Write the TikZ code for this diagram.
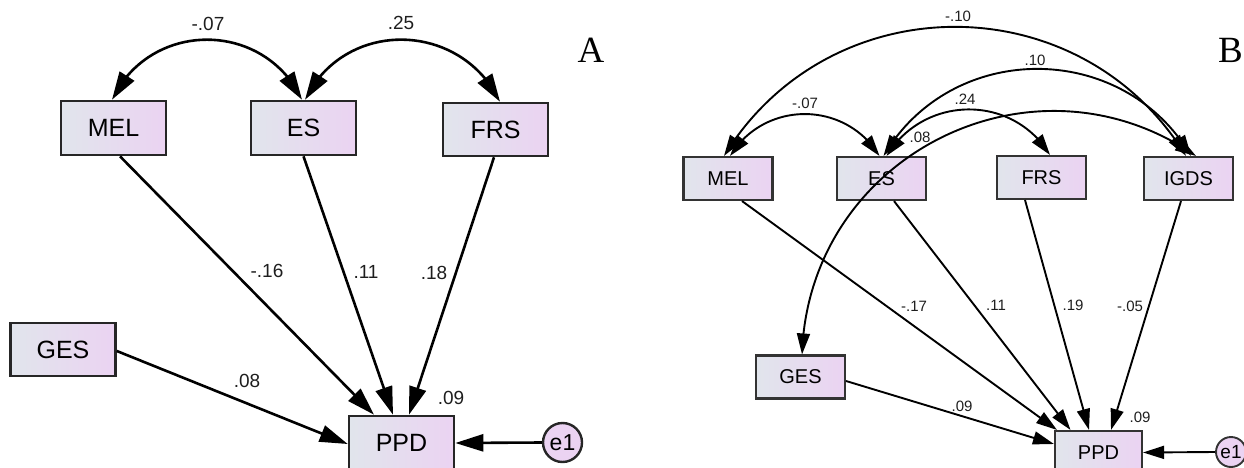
\documentclass[tikz,border=0pt]{standalone}
\usepackage{fontspec}
\setmainfont{Liberation Sans}
\newfontfamily\panelfont{Liberation Serif}
\usetikzlibrary{arrows.meta,bending}
\definecolor{boxL}{HTML}{E1E5EC}
\definecolor{boxR}{HTML}{EBD3F2}
\definecolor{labc}{HTML}{1E1E1E}
\begin{document}
\begin{tikzpicture}[x=1pt,y=1pt,
  boxA/.style={draw=black!85, line width=2.6pt, left color=boxL, right color=boxR,
    minimum width=105pt, minimum height=54pt, inner sep=0pt, font=\fontsize{25}{25}\selectfont},
  boxB/.style={draw=black!80, line width=2.1pt, left color=boxL, right color=boxR,
    minimum width=89pt, minimum height=43pt, inner sep=0pt, font=\fontsize{20}{20}\selectfont},
  errA/.style={circle, draw=black!85, line width=2.4pt, fill=boxR, minimum size=39pt, inner sep=0pt,
    font=\fontsize{23}{23}\selectfont},
  errB/.style={circle, draw=black!80, line width=1.9pt, fill=boxR, minimum size=30pt, inner sep=0pt,
    font=\fontsize{19}{19}\selectfont},
  pathA/.style={line width=2.6pt, -{Triangle[length=28pt,width=17pt]}},
  covA/.style={line width=2.6pt, {Triangle[length=28pt,width=17pt]}-{Triangle[length=28pt,width=17pt]}},
  pathB/.style={line width=1.9pt, -{Triangle[length=21pt,width=13pt]}},
  covB/.style={line width=1.9pt, {Triangle[length=21pt,width=13pt]}-{Triangle[length=21pt,width=13pt]}},
  labA/.style={inner sep=0pt, text=labc, font=\fontsize{19}{19}\selectfont},
  labB/.style={inner sep=0pt, text=labc, font=\fontsize{15}{15}\selectfont},
  panel/.style={inner sep=0pt, font=\panelfont\fontsize{37}{37}\selectfont}
]
\useasboundingbox (0,0) rectangle (1244,467);

% ---------------- Panel A ----------------
\node[boxA] (aMEL) at (113.5,339) {MEL};
\node[boxA] (aES)  at (303.5,339) {ES};
\node[boxA, minimum height=53pt] (aFRS) at (495.5,337.5) {FRS};
\node[boxA, minimum height=53pt] (aGES) at (63,117.5) {GES};
\node[boxA] (aPPD) at (401.5,24) {PPD};
\node[errA] (ae1) at (562.5,24.5) {e1};
\node[panel] (aLab) at (591,417) {A};

\draw[covA] ([xshift=-1.5]aMEL.north) .. controls +(64.6:88.6) and +(115.4:88.6) .. ([xshift=-1.5]aES.north);
\draw[covA] ([xshift=1.5]aES.north) .. controls +(64.1:90.5) and +(115.9:90.5) .. ([xshift=4.5]aFRS.north);

\draw[pathA] ([xshift=6.5]aMEL.south) -- ([xshift=-27.5]aPPD.north);
\draw[pathA] (aES.south) -- ([xshift=-8.5]aPPD.north);
\draw[pathA] ([xshift=-1.5]aFRS.south) -- ([xshift=7.5]aPPD.north);
\draw[pathA] ([yshift=-1.5]aGES.east) -- ([yshift=-1]aPPD.west);
\draw[pathA] (ae1.west) -- (aPPD.east);

\node[labA] (aL1) at (208,443) {-.07};
\node[labA] (aL2) at (401,444) {.25};
\node[labA] (aL3) at (267,196) {-.16};
\node[labA] (aL4) at (366,195) {.11};
\node[labA] (aL5) at (434,194) {.18};
\node[labA] (aL6) at (247,86) {.08};
\node[labA] (aL7) at (451,69) {.09};

% ---------------- Panel B ----------------
\node[boxB] (bMEL)  at (728,288.5) {MEL};
\node[boxB] (bES)   at (881.5,288.5) {ES};
\node[boxB] (bFRS)  at (1041.5,289.5) {FRS};
\node[boxB] (bIGDS) at (1188.5,288.5) {IGDS};
\node[boxB] (bGES)  at (800.5,90) {GES};
\node[boxB, minimum width=87pt] (bPPD) at (1098.5,14.5) {PPD};
\node[errB] (be1) at (1231,15) {e1};
\node[panel] (bLab) at (1230.5,417) {B};

\draw[covB] ([xshift=-4]bMEL.north) .. controls +(58.5:201.9) and +(121.5:201.9) .. ([xshift=-2.5]bIGDS.north);
\draw[covB] ([xshift=2]bMEL.north) .. controls +(58.4:65.6) and +(121.6:65.6) .. ([xshift=-2]bES.north);
\draw[covB] ([xshift=2]bES.north) .. controls +(59.6:134.6) and +(120.4:134.6) .. ([xshift=2.5]bIGDS.north);
\draw[covB] ([xshift=5]bES.north) .. controls +(58.6:71.9) and +(121.4:71.9) .. ([xshift=8.5]bFRS.north);
\draw[covB] ([xshift=1.5]bGES.north) .. controls +(88.2:198.9) and +(145.3:198.9) .. ([xshift=7.5]bIGDS.north);

\draw[pathB] ([xshift=14]bMEL.south) -- ([xshift=-41.5]bPPD.north);
\draw[pathB] ([xshift=12.5]bES.south) -- ([xshift=-28]bPPD.north);
\draw[pathB] ([xshift=-16.5]bFRS.south) -- ([xshift=-9.5]bPPD.north);
\draw[pathB] ([xshift=-7.5]bIGDS.south) -- ([xshift=12.5]bPPD.north);
\draw[pathB] ([yshift=-4]bGES.east) -- ([yshift=8.5]bPPD.west);
\draw[pathB] (be1.west) -- (bPPD.east);

\node[labB] (bL1) at (958,451) {-.10};
\node[labB] (bL2) at (1035,407) {.10};
\node[labB] (bL3) at (805,364) {-.07};
\node[labB] (bL4) at (965,368) {.24};
\node[labB] (bL5) at (920,330) {.08};
\node[labB] (bL6) at (914,161) {-.17};
\node[labB] (bL7) at (996,162) {.11};
\node[labB] (bL8) at (1073,162) {.19};
\node[labB] (bL9) at (1130,161) {-.05};
\node[labB] (bL10) at (962,61) {.09};
\node[labB] (bL11) at (1140,50) {.09};
\end{tikzpicture}
\end{document}
